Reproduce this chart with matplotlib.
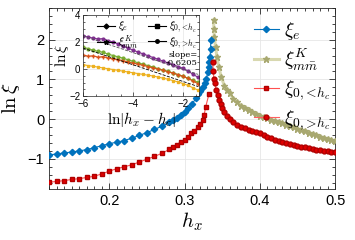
import numpy as np
import matplotlib
matplotlib.use("Agg")
import matplotlib.pyplot as plt
from matplotlib.ticker import MultipleLocator

plt.rcParams['font.family'] = ['Liberation Sans', 'DejaVu Sans']
plt.rcParams['mathtext.fontset'] = 'cm'

# main panel data
h_e = [0.12, 0.13, 0.14, 0.15, 0.16, 0.17, 0.18, 0.19, 0.20, 0.21, 0.22, 0.23,
       0.24, 0.25, 0.26, 0.27, 0.28, 0.285, 0.29, 0.295, 0.30, 0.305, 0.31,
       0.315, 0.318, 0.321, 0.324, 0.327, 0.329, 0.331, 0.332, 0.333, 0.334,
       0.3345, 0.335]
xi_e = [-0.90, -0.88, -0.85, -0.83, -0.80, -0.77, -0.72, -0.67, -0.62, -0.58,
        -0.54, -0.48, -0.41, -0.34, -0.26, -0.18, -0.08, -0.03, 0.03, 0.10,
        0.18, 0.28, 0.38, 0.52, 0.62, 0.72, 0.82, 0.92, 1.02, 1.18, 1.30,
        1.45, 1.56, 1.77, 1.98]

h_lo = [0.12, 0.13, 0.14, 0.15, 0.16, 0.17, 0.18, 0.19, 0.20, 0.21, 0.22, 0.23,
        0.24, 0.25, 0.26, 0.27, 0.28, 0.285, 0.29, 0.295, 0.30, 0.305, 0.309,
        0.313, 0.318, 0.321, 0.324, 0.326, 0.328, 0.3323]
xi_lo = [-1.59, -1.57, -1.55, -1.52, -1.50, -1.47, -1.44, -1.38, -1.31, -1.25,
         -1.20, -1.15, -1.08, -1.01, -0.94, -0.86, -0.76, -0.70, -0.64, -0.57,
         -0.52, -0.44, -0.36, -0.29, -0.20, -0.12, -0.02, 0.10, 0.30, 0.62]

h_hi = [0.3375, 0.338, 0.339, 0.340, 0.342, 0.344, 0.346, 0.348, 0.350, 0.353,
        0.356, 0.360, 0.365, 0.370, 0.375, 0.380, 0.385, 0.390, 0.395, 0.400,
        0.405, 0.410, 0.415, 0.420, 0.425, 0.430, 0.435, 0.440, 0.445, 0.450,
        0.455, 0.460, 0.465, 0.470, 0.475, 0.480, 0.485, 0.490, 0.495, 0.500]
xi_hi = [1.45, 1.22, 1.02, 0.90, 0.74, 0.60, 0.48, 0.38, 0.28, 0.18, 0.09,
         0.00, -0.08, -0.14, -0.19, -0.23, -0.27, -0.30, -0.33, -0.36, -0.40,
         -0.44, -0.48, -0.52, -0.55, -0.58, -0.61, -0.63, -0.65, -0.67, -0.69,
         -0.71, -0.73, -0.75, -0.77, -0.78, -0.80, -0.81, -0.83, -0.84]

h_k = [0.3385, 0.339, 0.3395, 0.3413, 0.343, 0.3456, 0.3487, 0.353, 0.356,
       0.360, 0.365, 0.370, 0.375, 0.380, 0.385, 0.390, 0.395, 0.400, 0.405,
       0.410, 0.415, 0.420, 0.425, 0.430, 0.435, 0.440, 0.445, 0.450, 0.455,
       0.460, 0.465, 0.470, 0.475, 0.480, 0.485, 0.490, 0.495, 0.500]
xi_k = [2.49, 2.28, 2.07, 1.81, 1.56, 1.31, 1.06, 0.84, 0.74, 0.66, 0.50,
        0.42, 0.34, 0.28, 0.22, 0.17, 0.13, 0.09, 0.05, 0.02, -0.01, -0.04,
        -0.08, -0.11, -0.15, -0.18, -0.21, -0.24, -0.28, -0.31, -0.35, -0.38,
        -0.41, -0.44, -0.47, -0.50, -0.53, -0.56]

# inset data: ln|h_x - h_c| vs ln xi
lx = [-6.0, -5.8, -5.6, -5.4, -5.2, -5.0, -4.8, -4.6, -4.4, -4.2, -4.0, -3.8,
      -3.6, -3.4, -3.2, -3.0, -2.8, -2.6, -2.4, -2.2, -2.0, -1.8, -1.6, -1.4]
ly_purple = [2.48, 2.35, 2.30, 2.22, 2.25, 2.10, 2.00, 1.85, 1.72, 1.55, 1.40,
             1.25, 1.12, 0.98, 0.85, 0.72, 0.58, 0.45, 0.32, 0.18, 0.05, -0.15,
             -0.40, -0.62]
ly_green = [1.64, 1.50, 1.40, 1.30, 1.24, 1.10, 1.00, 0.90, 0.80, 0.68, 0.57,
            0.46, 0.35, 0.25, 0.14, 0.03, -0.08, -0.18, -0.30, -0.42, -0.55,
            -0.70, -0.85, -0.98]
ly_orange = [1.05, 0.95, 0.98, 0.88, 0.92, 0.82, 0.75, 0.70, 0.62, 0.52, 0.44,
             0.36, 0.27, 0.18, 0.09, 0.00, -0.10, -0.20, -0.30, -0.42, -0.55,
             -0.70, -0.90, -1.10]
ly_yellow = [0.33, 0.25, 0.20, 0.14, 0.08, 0.02, -0.04, -0.10, -0.16, -0.22,
             -0.28, -0.34, -0.40, -0.46, -0.52, -0.60, -0.68, -0.76, -0.86,
             -0.96, -1.08, -1.22, -1.40, -1.57]
fit_x = [-6.0, -1.4]
fit_top = [2.45, -0.40]
fit_mid = [1.55, -1.30]
slope_txt = "slope=\n-0.6205"

blue = '#0072BD'
khaki = '#A8A870'
red = '#E00000'

lab_e = r'$\xi_e$'
lab_k = r'$\xi^K_{m\bar{m}}$'
lab_lo = r'$\xi_{0,\!<\!h_c}$'
lab_hi = r'$\xi_{0,\!>\!h_c}$'

fig = plt.figure(figsize=(3.55, 2.4), dpi=100)
ax = fig.add_axes([0.138, 0.2125, 0.806, 0.7545])

ax.plot(h_e, xi_e, '-D', color=blue, ms=3.2, lw=0.8, label=lab_e, zorder=4)
ax.plot(h_k, xi_k, '-*', color='#D8D8B0', mfc=khaki, mec=khaki, ms=5, lw=2.2,
        label=lab_k, zorder=3)
ax.plot(h_lo, xi_lo, '-s', color='#FF5050', mfc=red, mec='#B00000', ms=3.2,
        lw=0.8, label=lab_lo, zorder=4)
ax.plot(h_hi, xi_hi, '-o', color='#FF6060', mfc=red, mec='#B00000', ms=3.5,
        lw=0.8, label=lab_hi, zorder=4)

ax.set_xlim(0.12, 0.5)
ax.set_ylim(-1.76, 2.8)
ax.set_xticks([0.2, 0.3, 0.4, 0.5])
ax.set_yticks([-1, 0, 1, 2])
ax.xaxis.set_minor_locator(MultipleLocator(0.01))
ax.yaxis.set_minor_locator(MultipleLocator(0.2))
ax.tick_params(which='both', direction='in', top=True, right=True,
               labelsize=10.5, color='#262626', width=0.6)
ax.tick_params(which='major', length=4)
ax.tick_params(which='minor', length=2)
ax.grid(True, which='major', color='#E6E6E6', lw=0.6)
ax.set_axisbelow(True)
for s in ax.spines.values():
    s.set_color('#262626')
    s.set_linewidth(0.6)
ax.set_xlabel(r'$h_x$', fontsize=15, labelpad=2)
ax.set_ylabel(r'$\ln\xi$', fontsize=15, labelpad=4)

ax.legend(loc='upper right', bbox_to_anchor=(1.025, 1.0), frameon=False,
          fontsize=14, handlelength=1.3, handletextpad=0.25, labelspacing=0.28,
          borderaxespad=0.2)

# inset
ins = fig.add_axes([0.234, 0.6, 0.327, 0.3375])
ins.plot(lx, ly_purple, '-o', color='#7E2F8E', ms=2, lw=0.8)
ins.plot(lx, ly_green, '-o', color='#77AC30', ms=2, lw=0.8)
ins.plot(lx, ly_orange, '-+', color='#D95319', ms=3, lw=0.8)
ins.plot(lx, ly_yellow, '-s', color='#EDB120', ms=1.5, lw=0.8)
ins.plot(fit_x, fit_top, '--', color='#555555', lw=0.6)
ins.plot(fit_x, fit_mid, '--', color='black', lw=0.6)

# black legend proxies
h1, = ins.plot([], [], '-D', color='k', ms=2.5, lw=0.8, label=lab_e)
h2, = ins.plot([], [], '-*', color='k', ms=3.5, lw=0.8, label=lab_k)
h3, = ins.plot([], [], '-s', color='k', ms=2.5, lw=0.8, label=lab_lo)
h4, = ins.plot([], [], '-o', color='k', ms=2.5, lw=0.8, label=lab_hi)
ins.legend(handles=[h1, h2, h3, h4], ncol=2, loc='upper left',
           bbox_to_anchor=(0.08, 1.0), frameon=False, fontsize=8,
           handlelength=1.6, handletextpad=0.3, columnspacing=0.9,
           labelspacing=0.05, borderaxespad=0.0)
ins.text(0.99, 0.36, slope_txt, transform=ins.transAxes, ha='right',
         va='bottom', fontsize=6, family='DejaVu Serif', linespacing=1.0)

ins.set_xlim(-6, -1.36)
ins.set_ylim(-2, 4)
ins.set_xticks([-6, -4, -2])
ins.set_yticks([-2, 0, 2, 4])
ins.xaxis.set_minor_locator(MultipleLocator(0.5))
ins.yaxis.set_minor_locator(MultipleLocator(0.5))
ins.tick_params(which='both', direction='in', top=True, right=True,
                labelsize=7, pad=2, width=0.5, color='#262626')
ins.tick_params(which='major', length=3)
ins.tick_params(which='minor', length=1.5)
ins.grid(True, which='major', color='#E6E6E6', lw=0.5)
for s in ins.spines.values():
    s.set_color('#262626')
    s.set_linewidth(0.5)
ins.set_xlabel(r'$\ln|h_x-h_c|$', fontsize=11, labelpad=1)
ins.set_ylabel(r'$\ln\xi$', fontsize=11, labelpad=-1)

fig.savefig('out.png', dpi=100)
